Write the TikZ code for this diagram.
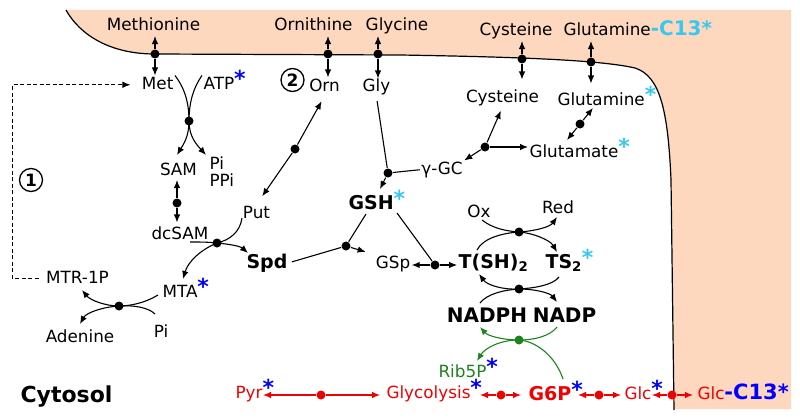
\documentclass[tikz,border=0pt]{standalone}
\usepackage{fontspec}
\setmainfont{DejaVu Sans}
\usetikzlibrary{arrows.meta,calc}
\definecolor{peach}{RGB}{253,216,190}
\definecolor{starblue}{RGB}{0,0,255}
\definecolor{starcyan}{RGB}{55,200,240}
\definecolor{rxred}{RGB}{240,0,0}
\definecolor{rxgreen}{RGB}{30,130,30}
\newcommand\mybstar{\raisebox{0.14em}{\fontsize{22}{22}\selectfont\color{starblue}\bfseries*}}
\newcommand\mycstar{\raisebox{0.14em}{\fontsize{22}{22}\selectfont\color{starcyan}\bfseries*}}
\begin{document}
\begin{tikzpicture}[x=1pt,y=-1pt,
  lbl/.style={inner sep=1pt, text height=12pt, text depth=3.5pt, font=\fontsize{16.8}{19}\selectfont, anchor=base},
  lblw/.style={lbl, anchor=base west},
  bld/.style={text height=14pt, font=\fontsize{19}{22}\selectfont\bfseries},
  bldm/.style={text height=14.5pt, font=\fontsize{20}{23}\selectfont\bfseries},
  bldl/.style={text height=15pt, font=\fontsize{22}{24}\selectfont\bfseries},
  dot/.style={circle, fill, inner sep=0pt, minimum size=9pt},
  num/.style={circle, draw, line width=1.3pt, inner sep=0pt, minimum size=23pt, font=\fontsize{17}{17}\selectfont\bfseries},
  >={Latex[length=8pt,width=6.5pt]},
  line width=1.1pt]
\useasboundingbox (0,0) rectangle (800,420);
% extracellular region
\fill[peach] (66,10) -- (791,10) -- (791,409) -- (674,409) -- (671,180)
  .. controls (668,110) and (660,76) .. (635,68)
  .. controls (600,60) and (520,57) .. (400,55) -- (155,54)
  .. controls (110,54) and (80,35) .. (66,10) -- cycle;
\draw[line width=1.2pt] (66,10) .. controls (80,35) and (110,54) .. (155,54) -- (400,55)
  .. controls (520,57) and (600,60) .. (635,68)
  .. controls (660,76) and (668,110) .. (671,180) -- (674,410);

% labels outside
\node[lbl] (Methionine) at (153.5,31) {Methionine};
\node[lbl] (Ornithine) at (313.5,31) {Ornithine};
\node[lbl] (Glycine) at (397,31) {Glycine};
\node[lbl] (CysOut) at (516,36) {Cysteine};
\node[lblw] (GlnOut) at (562,36) {Glutamine{\fontsize{20}{20}\selectfont\color{starcyan}\bfseries -C13*}};

% labels inside
\node[lbl] (Met) at (157.7,89) {Met};
\node[lblw] (ATP) at (202,89) {ATP\mybstar};
\node[lbl] (Orn) at (324.5,91) {Orn};
\node[lbl] (Gly) at (376.5,92) {Gly};
\node[lbl] (CysIn) at (502.5,102) {Cysteine};
\node[lblw] (GlnIn) at (556,105) {Glutamine\mycstar};
\node[lblw] (Glu) at (528,157) {Glutamate\mycstar};
\node[lbl] (gGC) at (442,174) {γ-GC};
\node[lblw,bld] (GSH) at (347,209) {GSH\mycstar};
\node[lbl] (SAM) at (178.5,175) {SAM};
\node[lblw] (Pi1) at (208,169) {Pi};
\node[lblw] (PPi) at (208,186) {PPi};
\node[lbl] (Put) at (256.5,218) {Put};
\node[lbl] (dcSAM) at (180,239) {dcSAM};
\node[lbl,bld] (Spd) at (267,268) {Spd};
\node[lbl] (GSp) at (393,268) {GSp};
\node[lbl,bld] (TSH) at (493.5,268) {T(SH)\textsubscript{2}};
\node[lblw,bld] (TS2) at (544,268) {TS\textsubscript{2}\mycstar};
\node[lbl] (Ox) at (479,217) {Ox};
\node[lbl] (Red) at (558,213) {Red};
\node[lbl,bldm] (NADPH) at (487,322) {NADPH};
\node[lbl,bldm] (NADP) at (564.5,322) {NADP};
\node[lblw,text=rxgreen] (Rib5P) at (437,377) {Rib5P\mybstar};
\node[lbl,bldl] (Cytosol) at (66.5,402) {Cytosol};
\node[lblw,text=rxred] (Pyr) at (234,398) {Pyr\mybstar};
\node[lblw,text=rxred] (Glycolysis) at (385,398) {Glycolysis\mybstar};
\node[lblw,bld,text=rxred] (G6P) at (527,400) {G6P\mybstar};
\node[lblw,text=rxred] (Glc) at (623,399) {Glc\mybstar};
\node[lblw,text=rxred] (GlcOut) at (696,399) {Glc{\fontsize{21}{21}\selectfont\color{starblue}\bfseries -C13*}};
\node[lbl] (MTR) at (77.5,283) {MTR-1P};
\node[lblw] (MTA) at (161,297) {MTA\mybstar};
\node[lbl] (Adenine) at (80,342) {Adenine};
\node[lbl] (Pi2) at (161,337) {Pi};

\node[num] (c1) at (31,180) {1};
\node[num] (c2) at (292.5,80) {2};

% transport
\node[dot] (tMet) at (155,54) {};
\draw[->] (tMet) -- (tMet |- Methionine.south);
\draw[->] (tMet) -- (tMet |- Met.north);
\node[dot] (tOrn) at (328,54) {};
\draw[->] (tOrn) -- (tOrn |- Ornithine.south);
\draw[->] (tOrn) -- (tOrn |- Orn.north);
\node[dot] (tGly) at (378,54) {};
\draw[->] (tGly) -- (tGly |- Glycine.south);
\draw[->] (tGly) -- (tGly |- Gly.north);
\node[dot] (tCys) at (522,59) {};
\draw[->] (tCys) -- (tCys |- CysOut.south);
\draw[->,shorten >=9pt] (tCys) -- (tCys |- CysIn.north);
\node[dot] (tGln) at (591,62) {};
\draw[->] (tGln) -- (tGln |- GlnOut.south);
\draw[->,shorten >=8pt] (tGln) -- (tGln |- GlnIn.north);

% Met + ATP -> SAM + Pi/PPi
\node[dot] (d1) at (189,121) {};
\coordinate (samTip) at (177,155);
\coordinate (piTip) at (206,155);
\draw[->] (Met.north east) .. controls (186,90) and (189,105) .. (d1.center)
  .. controls (189,137) and (183,145) .. (samTip);
\draw[->] (ATP.north west) .. controls (192,90) and (189,105) .. (d1.center)
  .. controls (189,137) and (197,145) .. (piTip);

% SAM <-> dcSAM
\node[dot] (d2) at (177,203) {};
\draw[->] (d2) -- (d2 |- SAM.south);
\draw[->,shorten >=3pt] (d2) -- (d2 |- dcSAM.north);

% Put <-> Orn
\node[dot] (d3) at (295,149) {};
\draw[->,shorten >=6pt] (d3) -- (Orn.south);
\draw[->,shorten >=10pt] (d3) -- (Put.north);

% dcSAM + Put -> Spd + MTA
\node[dot] (d4) at (217,243) {};
\coordinate (dcsS) at (190,242);
\coordinate (putS) at (242,218);
\coordinate (spdTip) at (248,253);
\coordinate (mtaTip) at (183,279);
\draw[->] (dcsS) .. controls (200,242) and (208,242) .. (d4.center)
  .. controls (228,244) and (240,246) .. (spdTip);
\draw[->] (putS) .. controls (240,232) and (230,240) .. (d4.center)
  .. controls (200,250) and (188,262) .. (mtaTip);

% MTA + Pi -> MTR-1P + Adenine
\node[dot] (d5) at (119,306) {};
\coordinate (mtaS) at (158,295);
\coordinate (piS) at (155,314);
\coordinate (mtrTip) at (82,290);
\coordinate (adeTip) at (80,324);
\draw[->] (mtaS) .. controls (145,303) and (130,306) .. (d5.center)
  .. controls (105,306) and (90,300) .. (mtrTip);
\draw[->] (piS) .. controls (148,307) and (132,305) .. (d5.center)
  .. controls (102,307) and (86,313) .. (adeTip);

% salvage (dashed)
\draw[line width=0.9pt, dash pattern=on 4pt off 2.5pt, ->] (MTR.west) ++(-6,0) -- ++(-26,0) |- ([xshift=-10pt]Met.west);

% glutathione synthesis
\node[dot] (d6) at (388,173) {};
\coordinate (gshTip) at (380,189);
\draw[shorten <=4pt] (Gly.south) -- (d6);
\draw (gGC.west) -- (d6);
\draw[->] (d6) -- (gshTip);

\node[dot] (d7) at (485,147) {};
\draw[->,shorten >=4pt] (d7) -- (CysIn.south);
\draw[->] (d7) -- (gGC.north east);
\draw[->] (d7) -- (d7 -| Glu.west);

\node[dot] (d8) at (580,124) {};
\coordinate (glnTip) at (593,108);
\coordinate (gluTip) at (567,140);
\draw[->] (d8) -- (glnTip);
\draw[->] (d8) -- (gluTip);

% GSH + Spd -> GSp
\node[dot] (d9) at (346,246) {};
\coordinate (gshS) at (366,214);
\draw (gshS) -- (d9);
\draw[shorten <=3pt] (Spd.east) -- (d9);
\draw[->,shorten >=9pt] (d9) -- (GSp.north west);

% GSp <-> T(SH)2
\node[dot] (d10) at (435,265) {};
\coordinate (gshS2) at (397,213);
\draw (gshS2) -- (d10);
\draw[->] (d10) -- (d10 -| GSp.east);
\draw[->] (d10) -- (d10 -| TSH.west);

% Ox/Red cycle
\node[dot] (d11) at (519,232) {};
\coordinate (oxS) at (482,220);
\coordinate (tshS1) at (477,250);
\coordinate (ts2Tip) at (557,252);
\coordinate (redTip) at (557,217);
\draw[->] (oxS) .. controls (492,228) and (505,231) .. (d11.center)
  .. controls (533,233) and (550,240) .. (ts2Tip);
\draw[->] (tshS1) .. controls (483,238) and (503,233) .. (d11.center)
  .. controls (535,231) and (550,227) .. (redTip);

% NADPH cycle
\node[dot] (d12) at (519,289) {};
\coordinate (ts2S) at (559,277);
\coordinate (tshTip) at (479,274);
\coordinate (nadphS) at (480,303);
\coordinate (nadpTip) at (557,302);
\draw[->] (ts2S) .. controls (553,285) and (535,288) .. (d12.center)
  .. controls (503,290) and (487,285) .. (tshTip);
\draw[->] (nadphS) .. controls (487,294) and (503,290) .. (d12.center)
  .. controls (535,289) and (550,293) .. (nadpTip);

% pentose phosphate (green)
\begin{scope}[rxgreen]
\node[dot] (d13) at (519,340) {};
\coordinate (nadpS) at (557,327);
\coordinate (nadphTip) at (480,327);
\coordinate (g6pS) at (563,379);
\coordinate (ribTip) at (477,361);
\draw[->] (nadpS) .. controls (550,336) and (535,340) .. (d13.center)
  .. controls (503,340) and (488,336) .. (nadphTip);
\draw[->] (g6pS) .. controls (555,355) and (535,341) .. (d13.center)
  .. controls (500,340) and (485,348) .. (ribTip);
\end{scope}

% glycolysis (red)
\begin{scope}[rxred]
\node[dot] (r1) at (321,395) {};
\node[dot] (r2) at (501,395) {};
\node[dot] (r3) at (599,395) {};
\node[dot] (r4) at (672,395) {};
\coordinate (pyrTip) at (263,395);
\coordinate (glyTipL) at (380,395);
\coordinate (glyTipR) at (480,395);
\coordinate (g6pTipL) at (521,395);
\coordinate (g6pTipR) at (578,395);
\coordinate (glcTipL) at (621,395);
\coordinate (glcTipR) at (652,395);
\coordinate (glcoTip) at (693,395);
\draw[->] (r1) -- (pyrTip);
\draw[->] (r1) -- (glyTipL);
\draw[->] (r2) -- (glyTipR);
\draw[->] (r2) -- (g6pTipL);
\draw[->] (r3) -- (g6pTipR);
\draw[->] (r3) -- (glcTipL);
\draw[->] (r4) -- (glcTipR);
\draw[->] (r4) -- (glcoTip);
\end{scope}
\end{tikzpicture}
\end{document}
